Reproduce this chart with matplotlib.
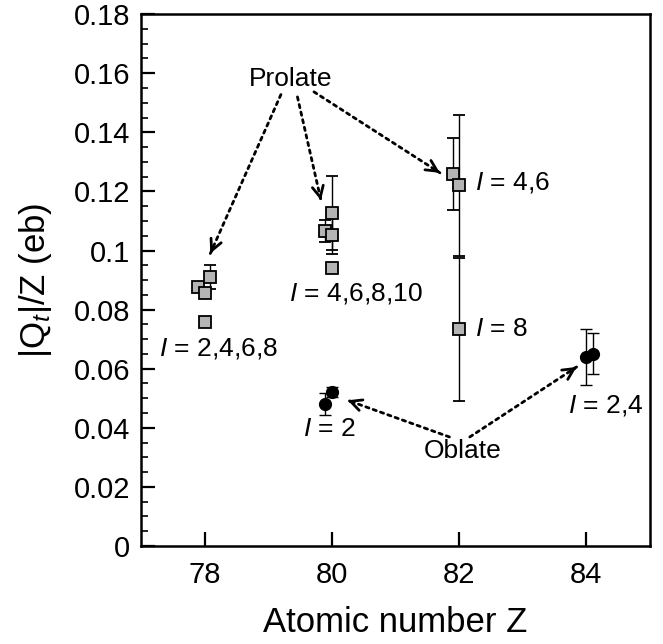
import matplotlib.pyplot as plt

plt.rcParams['font.family'] = ['Liberation Sans', 'DejaVu Sans']
plt.rcParams['mathtext.fontset'] = 'custom'
plt.rcParams['mathtext.rm'] = 'Liberation Sans'
plt.rcParams['mathtext.it'] = 'Liberation Sans:italic'

# prolate points (grey squares)
prolate_z = [77.9, 78.0, 78.09, 78.0, 79.9, 80.0, 80.0, 80.0, 81.9, 82.0, 82.0]
prolate_q = [0.0875, 0.0855, 0.0911, 0.0759, 0.1066, 0.1051, 0.1126, 0.0942, 0.1258, 0.1221, 0.0733]
prolate_err = [0.0015, 0.0015, 0.0040, 0.0008, 0.0037, 0.0063, 0.0125, 0.0010, 0.0122, 0.0238, 0.0241]

# oblate points (black circles)
oblate_z = [79.9, 80.0, 84.0, 84.1]
oblate_q = [0.0482, 0.0521, 0.0640, 0.0651]
oblate_err = [0.0037, 0.0017, 0.0095, 0.0070]

# spin labels: text, Z, value
spin_labels = ["4,6", "4,6,8,10", "8", "2,4,6,8", "2", "2,4"]
spin_z = [82.25, 79.32, 82.25, 77.28, 79.54, 83.72]
spin_q = [0.123, 0.0855, 0.0735, 0.0668, 0.0395, 0.0476]

fig = plt.figure(figsize=(6.63, 6.44), dpi=100)
ax = fig.add_axes([0.2127, 0.1522, 0.7673, 0.8258])

ax.errorbar(prolate_z, prolate_q, yerr=prolate_err, fmt='s', ms=8,
            mfc='#b4b4b4', mec='black', mew=1.3, ecolor='black',
            elinewidth=1.0, capsize=4, capthick=1.0)
ax.errorbar(oblate_z, oblate_q, yerr=oblate_err, fmt='o', ms=8.5,
            mfc='black', mec='black', ecolor='black',
            elinewidth=1.0, capsize=4, capthick=1.0)

for lab, z, q in zip(spin_labels, spin_z, spin_q):
    ax.text(z, q, '$I$ = ' + lab, fontsize=19, va='center', ha='left')


def dotted_arrow(tail, head):
    ax.annotate('', xy=head, xytext=tail,
                arrowprops=dict(arrowstyle='-', linestyle=(0, (1.2, 1.6)),
                                lw=2, color='black', shrinkA=0, shrinkB=0))
    # short solid piece to carry the open head
    dx = head[0] - tail[0]
    dy = head[1] - tail[1]
    ax.annotate('', xy=head, xytext=(head[0] - dx * 0.02, head[1] - dy * 0.02),
                arrowprops=dict(arrowstyle='->,head_length=0.8,head_width=0.4',
                                lw=2, color='black', shrinkA=0, shrinkB=0))


ax.text(79.35, 0.158, 'Prolate', fontsize=19, ha='center', va='center')
dotted_arrow((79.2, 0.1528), (78.09, 0.099))
dotted_arrow((79.46, 0.152), (79.83, 0.117))
dotted_arrow((79.72, 0.1537), (81.70, 0.1263))

ax.text(82.05, 0.032, 'Oblate', fontsize=19, ha='center', va='center')
dotted_arrow((81.85, 0.0369), (80.25, 0.0493))
dotted_arrow((82.17, 0.0369), (83.85, 0.0606))

ax.set_xlim(77, 85)
ax.set_ylim(0, 0.18)
ax.set_xticks([78, 80, 82, 84])
ax.set_yticks([0, 0.02, 0.04, 0.06, 0.08, 0.1, 0.12, 0.14, 0.16, 0.18])
ax.set_yticklabels(['0', '0.02', '0.04', '0.06', '0.08', '0.1', '0.12', '0.14', '0.16', '0.18'])
ax.set_yticks([i * 0.005 for i in range(37)], minor=True)
ax.tick_params(axis='both', which='major', direction='in', length=10, width=1.6,
               labelsize=21, top=False, right=False)
ax.tick_params(axis='x', which='major', pad=11)
ax.tick_params(axis='y', which='major', pad=8)
ax.tick_params(axis='y', which='minor', direction='in', length=5, width=1.2)
for s in ax.spines.values():
    s.set_linewidth(1.8)

ax.set_xlabel('Atomic number Z', fontsize=25, labelpad=12)
ax.set_ylabel('|Q$_t$|/Z (eb)', fontsize=25, labelpad=14)

fig.savefig('out.png', dpi=100)
